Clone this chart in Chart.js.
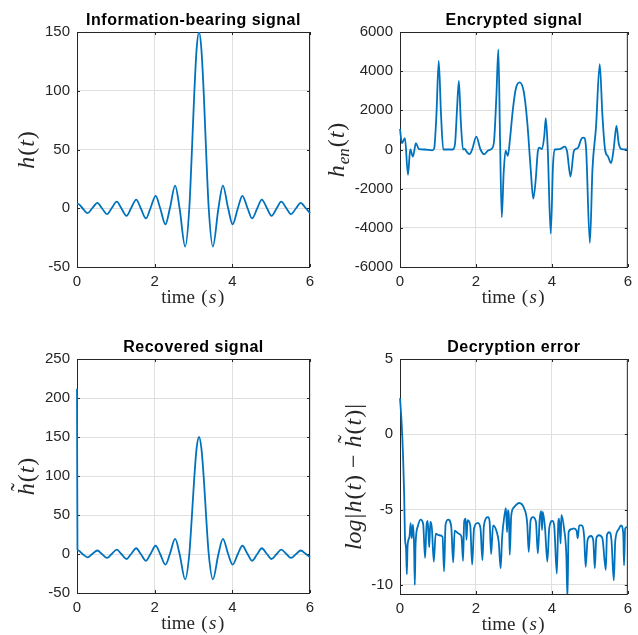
<!DOCTYPE html>
<html>
<head>
<meta charset="utf-8">
<script src="https://cdn.jsdelivr.net/npm/chart.js@4"></script>
<style>
    body { margin: 0; background: #fff; }
    #fig { position: relative; width: 638px; height: 635px; }
    #fig canvas { position: absolute; left: 0; top: 0; }
</style>
</head>
<body>
<div id="fig">
    <canvas id="infoChart" width="638" height="635"></canvas>
    <canvas id="encChart" width="638" height="635"></canvas>
    <canvas id="recChart" width="638" height="635"></canvas>
    <canvas id="errChart" width="638" height="635"></canvas>
</div>
<script>
// Information-bearing signal h(t)
const tInfo = [0, 0.03, 0.142, 0.274, 0.392, 0.525, 0.642, 0.775, 0.892, 1.025, 1.142, 1.275, 1.392, 1.525,
    1.642, 1.776, 1.892, 2.026, 2.142, 2.278, 2.392, 2.527, 2.642, 2.785, 2.892, 2.954, 3.017, 3.079, 3.142,
    3.204, 3.267, 3.329, 3.392, 3.499, 3.642, 3.757, 3.892, 4.006, 4.142, 4.258, 4.392, 4.508, 4.642, 4.759,
    4.892, 5.009, 5.142, 5.259, 5.392, 5.509, 5.642, 5.759, 5.892, 6.0];
const hInfo = [3.7, 3.8, 0, -4.2, 0, 4.5, 0, -5.0, 0, 5.6, 0, -6.4, 0, 7.4,
    0, -8.7, 0, 10.6, 0, -13.7, 0, 19.3, 0, -32.6, 0, 45, 95.5, 135, 150,
    135, 95.5, 45, 0, -32.6, 0, 19.3, 0, -13.7, 0, 10.6, 0, -8.7, 0, 7.4,
    0, -6.4, 0, 5.6, 0, -5.0, 0, 4.5, 0, -4.1];

// Encrypted signal h_en(t)
const tEnc = [0, 0.05, 0.13, 0.21, 0.27, 0.34, 0.42, 0.50, 0.65, 0.85, 0.90, 0.96, 1.02, 1.08, 1.14,
    1.39, 1.45, 1.50, 1.55, 1.60, 1.66, 1.70, 1.76, 1.83, 1.90, 2.01, 2.12, 2.22, 2.32, 2.42, 2.48,
    2.54, 2.59, 2.635, 2.68, 2.73, 2.78, 2.84, 2.90, 2.97, 3.05, 3.15, 3.26, 3.35, 3.44, 3.51, 3.57,
    3.63, 3.67, 3.74, 3.80, 3.84, 3.89, 3.97, 4.03, 4.08, 4.21, 4.34, 4.40, 4.49, 4.58, 4.68, 4.79,
    4.84, 4.90, 5.00, 5.07, 5.16, 5.26, 5.33, 5.40, 5.48, 5.56, 5.63, 5.70, 5.76, 5.83, 6.0];
const hEnc = [1050, 320, 580, -1290, 0, -360, 320, 20, 0, -40, 50, 1800, 4520, 1800, 0,
    0, 300, 2000, 3500, 1500, 0, 30, -120, -240, 0, 660, 0, -240, -50, 50, 500,
    2800, 5110, 500, -3460, -1200, -60, -320, 600, 2000, 3100, 3430, 2950, 1430, -950, -2510, -1630,
    -100, 100, 20, 700, 1600, 70, -4300, -780, 0, 20, 150, -100, -1380, -70, 70, 580,
    610, 70, -4770, -950, 1090, 4360, 1770, 0, -360, -700, 70, 1200, 320, 20, 0];

// Recovered signal
const tRec = [0, 0.012, 0.04, 0.142, 0.274, 0.392, 0.525, 0.642, 0.775, 0.892, 1.025, 1.142, 1.275, 1.392, 1.525,
    1.642, 1.776, 1.892, 2.026, 2.142, 2.278, 2.392, 2.527, 2.642, 2.785, 2.892, 2.954, 3.017, 3.079, 3.142,
    3.204, 3.267, 3.329, 3.392, 3.499, 3.642, 3.757, 3.892, 4.006, 4.142, 4.258, 4.392, 4.508, 4.642, 4.759,
    4.892, 5.009, 5.142, 5.259, 5.392, 5.509, 5.642, 5.759, 5.892, 6.0];
const hRec = [212, 6, 4.2, 0, -4.2, 0, 4.5, 0, -5.0, 0, 5.6, 0, -6.4, 0, 7.4,
    0, -8.7, 0, 10.6, 0, -13.7, 0, 19.3, 0, -32.6, 0, 45, 95.5, 135, 150,
    135, 95.5, 45, 0, -32.6, 0, 19.3, 0, -13.7, 0, 10.6, 0, -8.7, 0, 7.4,
    0, -6.4, 0, 5.6, 0, -5.0, 0, 4.5, 0, -4.1];

// Decryption error log|h - h~|
const tErr = [0, 0.04, 0.08, 0.11, 0.13, 0.16, 0.18, 0.20, 0.25, 0.28, 0.31, 0.34, 0.37, 0.39, 0.41,
    0.47, 0.54, 0.61, 0.66, 0.70, 0.73, 0.77, 0.80, 0.84, 0.89, 0.94, 1.03, 1.12, 1.16, 1.20,
    1.27, 1.35, 1.40, 1.44, 1.55, 1.62, 1.66, 1.69, 1.73, 1.75, 1.78, 1.85, 1.90, 1.95, 2.05,
    2.12, 2.17, 2.21, 2.32, 2.36, 2.40, 2.45, 2.55, 2.60, 2.65, 2.69, 2.75, 2.79, 2.82, 2.84,
    2.87, 2.89, 2.93, 3.00, 3.14, 3.27, 3.35, 3.39, 3.44, 3.50, 3.58, 3.63, 3.68, 3.72, 3.74,
    3.76, 3.82, 3.88, 3.93, 4.01, 4.06, 4.13, 4.17, 4.19, 4.23, 4.25, 4.32, 4.38, 4.41, 4.44,
    4.51, 4.58, 4.65, 4.68, 4.72, 4.78, 4.85, 4.89, 4.94, 5.03, 5.09, 5.13, 5.17, 5.24, 5.33,
    5.42, 5.45, 5.51, 5.57, 5.63, 5.67, 5.76, 5.82, 5.88, 5.90, 5.93, 6.00];
const eErr = [2.4, 0.9, -1.4, -4.0, -6.8, -7.6, -9.3, -7.4, -6.8, -5.9, -6.9, -6.0, -7.3, -10.0, -7.3,
    -6.1, -5.66, -5.95, -8.2, -6.0, -5.75, -7.5, -5.8, -6.25, -8.45, -6.6, -6.7, -6.8, -9.1, -6.0,
    -5.66, -6.15, -8.5, -6.4, -6.6, -6.8, -8.4, -5.8, -5.6, -7.0, -5.7, -6.05, -8.65, -6.25, -5.88,
    -6.25, -8.35, -6.05, -5.5, -5.8, -7.95, -6.05, -6.5, -7.15, -8.9, -6.8, -5.4, -4.9, -6.5, -5.05,
    -5.6, -8.0, -5.4, -4.85, -4.56, -4.93, -5.9, -7.8, -5.7, -5.5, -5.8, -7.9, -5.6, -5.1, -6.35,
    -5.15, -6.25, -8.45, -6.25, -5.75, -6.05, -9.25, -5.8, -5.6, -7.25, -5.35, -6.25, -8.0, -10.9, -6.5,
    -6.3, -6.25, -6.4, -6.9, -6.05, -6.05, -6.8, -8.8, -7.0, -6.75, -7.05, -8.9, -6.9, -6.7, -6.9,
    -9.0, -6.7, -6.5, -7.05, -9.7, -7.05, -6.3, -6.05, -6.6, -8.7, -6.25, -6.15];

const xTicks = [0, 2, 4, 6];
const FIG_W = 638, FIG_H = 635;
const AXIS_COLOR = '#262626';
const LINE_COLOR = '#0072BD';
const SERIF = '"Liberation Serif", "Times New Roman", serif';
const SANS = '"Liberation Sans", Arial, Helvetica, sans-serif';

// draw a row of text pieces (italic / upright / subscript / tilde) centred at 0
function drawRich(ctx, parts, size, spacing) {
    const fontOf = p => (p.it ? 'italic ' : '') + (p.sz || size) + 'px ' + SERIF;
    let total = 0;
    parts.forEach(p => {
        ctx.font = fontOf(p);
        p.w = ctx.measureText(p.t).width + spacing;
        total += p.w;
    });
    let x = -total / 2;
    ctx.textBaseline = 'alphabetic';
    ctx.textAlign = 'left';
    parts.forEach(p => {
        ctx.font = fontOf(p);
        ctx.fillText(p.t, x, p.dy || 0);
        if (p.tilde) {
            ctx.font = size + 'px ' + SERIF;
            ctx.textAlign = 'center';
            ctx.fillText('\u02DC', x + (p.w - spacing) / 2 + size * 0.1, -size * 0.3);
            ctx.textAlign = 'left';
        }
        x += p.w;
    });
}

function decoPlugin(cfg) {
    return {
        id: 'deco',
        beforeDatasetsDraw(chart) {
            const { ctx, chartArea: a, scales } = chart;
            ctx.save();
            ctx.strokeStyle = AXIS_COLOR;
            ctx.lineWidth = 1;
            ctx.strokeRect(a.left + 0.5, a.top + 0.5, a.right - a.left - 1, a.bottom - a.top);
            ctx.beginPath();
            scales.x.ticks.forEach(t => {
                const px = Math.round(scales.x.getPixelForValue(t.value)) + 0.5;
                ctx.moveTo(px, a.bottom); ctx.lineTo(px, a.bottom - 3);
                ctx.moveTo(px, a.top); ctx.lineTo(px, a.top + 3);
            });
            scales.y.ticks.forEach(t => {
                const py = Math.round(scales.y.getPixelForValue(t.value)) + 0.5;
                ctx.moveTo(a.left, py); ctx.lineTo(a.left + 3, py);
                ctx.moveTo(a.right, py); ctx.lineTo(a.right - 3, py);
            });
            ctx.stroke();
            ctx.restore();
        },
        afterDraw(chart) {
            const { ctx, chartArea: a } = chart;
            const cx = (a.left + a.right) / 2;
            ctx.save();
            ctx.fillStyle = '#000';
            ctx.font = 'bold 16px ' + SANS;
            ctx.letterSpacing = '0.5px';
            ctx.textAlign = 'center';
            ctx.textBaseline = 'alphabetic';
            ctx.fillText(cfg.title, cx, a.top - 7);
            ctx.letterSpacing = '0px';

            ctx.fillStyle = AXIS_COLOR;
            ctx.save();
            ctx.translate(cx, a.bottom + 36);
            drawRich(ctx, [{ t: 'time ' }, { t: '(' }, { t: 's', it: true }, { t: ')' }], 19, 1.5);
            ctx.restore();

            ctx.save();
            ctx.translate(cfg.ylabX, (a.top + a.bottom) / 2);
            ctx.rotate(-Math.PI / 2);
            drawRich(ctx, cfg.ylabel, 24, 1);
            ctx.restore();
            ctx.restore();
        }
    };
}

function makeChart(id, xs, ys, box, yAxis, cfg) {
    const points = xs.map((x, i) => ({ x: x, y: ys[i] }));
    return new Chart(document.getElementById(id), {
        type: 'line',
        data: {
            datasets: [{
                data: points,
                borderColor: LINE_COLOR,
                borderWidth: 1.8,
                pointRadius: 0,
                cubicInterpolationMode: 'monotone',
                clip: { left: 2, top: 0, right: 2, bottom: 0 },
                fill: false
            }]
        },
        options: {
            responsive: false,
            animation: false,
            events: [],
            layout: { padding: { left: 0, top: box.t, right: FIG_W - box.r, bottom: 0 } },
            plugins: { legend: { display: false }, tooltip: { enabled: false }, title: { display: false } },
            scales: {
                x: {
                    type: 'linear',
                    min: 0, max: 6,
                    afterFit: s => { s.height = FIG_H - box.b; },
                    afterBuildTicks: s => { s.ticks = xTicks.map(v => ({ value: v })); },
                    grid: { color: '#dfdfdf', drawTicks: false },
                    border: { display: false },
                    ticks: { color: AXIS_COLOR, font: { family: SANS, size: 15 }, padding: 6, maxRotation: 0,
                        callback: v => String(v) }
                },
                y: {
                    min: yAxis.min, max: yAxis.max,
                    afterFit: s => { s.width = box.l; },
                    afterBuildTicks: s => { s.ticks = yAxis.ticks.map(v => ({ value: v })); },
                    grid: { color: '#dfdfdf', drawTicks: false },
                    border: { display: false },
                    ticks: { color: AXIS_COLOR, font: { family: SANS, size: 15 }, padding: 7,
                        callback: v => String(v) }
                }
            }
        },
        plugins: [decoPlugin(cfg)]
    });
}

makeChart('infoChart', tInfo, hInfo, { l: 77, t: 32, r: 310, b: 267 },
    { min: -50, max: 150, ticks: [-50, 0, 50, 100, 150] },
    { title: 'Information-bearing signal', ylabX: 34,
      ylabel: [{ t: 'h', it: true }, { t: '(' }, { t: 't', it: true }, { t: ')' }] });

makeChart('encChart', tEnc, hEnc, { l: 400, t: 32, r: 633, b: 267 },
    { min: -6000, max: 6000, ticks: [-6000, -4000, -2000, 0, 2000, 4000, 6000] },
    { title: 'Encrypted signal', ylabX: 344,
      ylabel: [{ t: 'h', it: true }, { t: 'en', it: true, sz: 17, dy: 5 }, { t: '(' }, { t: 't', it: true }, { t: ')' }] });

makeChart('recChart', tRec, hRec, { l: 77, t: 359, r: 310, b: 593 },
    { min: -50, max: 250, ticks: [-50, 0, 50, 100, 150, 200, 250] },
    { title: 'Recovered signal', ylabX: 34,
      ylabel: [{ t: 'h', it: true, tilde: true }, { t: '(' }, { t: 't', it: true }, { t: ')' }] });

makeChart('errChart', tErr, eErr, { l: 400, t: 359, r: 633, b: 594 },
    { min: -10.6, max: 5, ticks: [-10, -5, 0, 5] },
    { title: 'Decryption error', ylabX: 361,
      ylabel: [{ t: 'log', it: true }, { t: '|' }, { t: 'h', it: true }, { t: '(' }, { t: 't', it: true }, { t: ')' },
               { t: ' \u2212 ' }, { t: 'h', it: true, tilde: true }, { t: '(' }, { t: 't', it: true }, { t: ')' }, { t: '|' }] });
</script>
</body>
</html>
